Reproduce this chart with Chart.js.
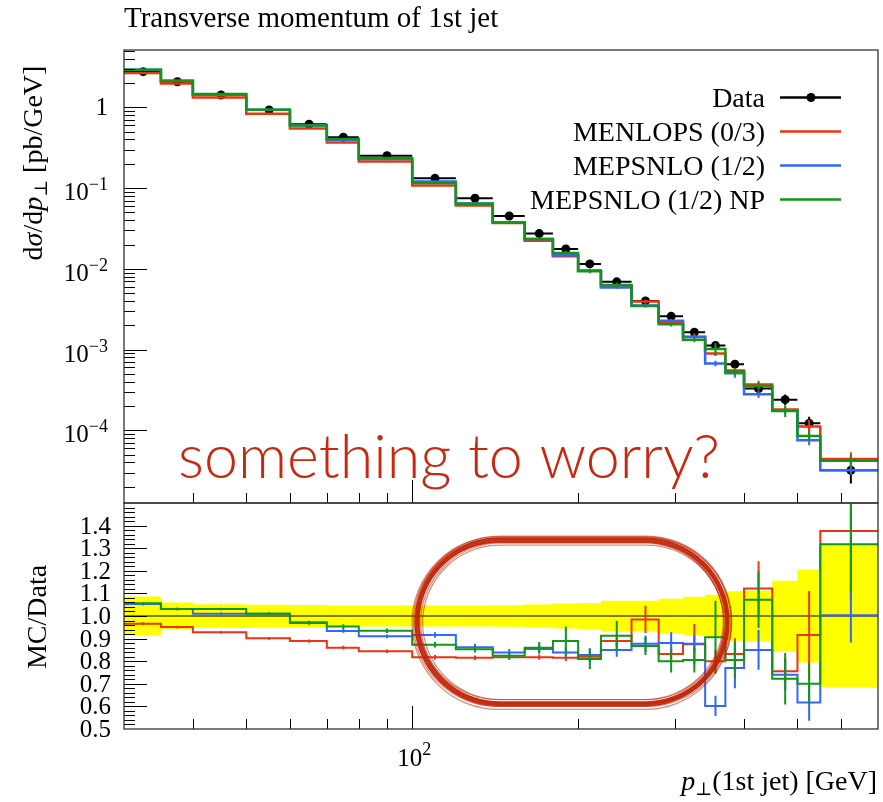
<!DOCTYPE html>
<html lang="en">
<head>
<meta charset="UTF-8">
<title>Transverse momentum of 1st jet</title>
<script src="https://cdn.jsdelivr.net/npm/chart.js@4.4.1/dist/chart.umd.min.js"></script>
<style>
  body { margin: 0; background: #fff; }
  .wrap { position: relative; width: 883px; height: 802px; }
  .wrap canvas { position: absolute; left: 0; top: 0; }
</style>
</head>
<body>
<div class="wrap">
  <canvas id="mainChart" width="883" height="802"></canvas>
  <canvas id="ratioChart" width="883" height="802"></canvas>
</div>
<script>
// jet pT binning [GeV]
const binEdges = [30, 35, 40, 50, 60, 70, 80, 100, 120, 140, 160, 180, 200, 220, 250, 280, 310, 340, 370, 400, 450, 500, 550, 700];

// measured dsigma/dpT [pb/GeV] and its relative uncertainty
const dataValues = [2.76, 2.07, 1.42, 0.926, 0.616, 0.425, 0.252, 0.132, 0.0748, 0.0451, 0.0273, 0.0176, 0.0115, 0.0069, 0.0040, 0.00258, 0.00164, 0.00112, 0.00066, 0.00033, 0.00024, 0.000122, 0.000032];
const dataRelErr = [0.086, 0.060, 0.052, 0.050, 0.049, 0.047, 0.046, 0.046, 0.046, 0.048, 0.051, 0.055, 0.057, 0.068, 0.068, 0.076, 0.085, 0.094, 0.110, 0.112, 0.156, 0.206, 0.315];

// MC / data ratios and their stat. errors
const ratioMenlops = [0.966, 0.951, 0.928, 0.901, 0.889, 0.860, 0.844, 0.817, 0.815, 0.817, 0.818, 0.815, 0.820, 0.889, 0.985, 0.832, 0.875, 0.800, 0.832, 1.122, 0.755, 0.916, 1.376];
const errMenlops = [0.006, 0.006, 0.006, 0.006, 0.007, 0.008, 0.008, 0.010, 0.010, 0.012, 0.012, 0.014, 0.016, 0.020, 0.060, 0.030, 0.090, 0.050, 0.070, 0.120, 0.060, 0.195, 0.300];
const ratioMepsnlo = [1.053, 1.031, 1.010, 1.010, 0.972, 0.934, 0.910, 0.916, 0.862, 0.839, 0.854, 0.838, 0.827, 0.850, 0.877, 0.880, 0.877, 0.602, 0.770, 0.850, 0.740, 0.617, 1.003];
const errMepsnlo = [0.006, 0.006, 0.006, 0.006, 0.007, 0.008, 0.008, 0.012, 0.015, 0.015, 0.020, 0.025, 0.030, 0.030, 0.037, 0.048, 0.040, 0.045, 0.090, 0.088, 0.070, 0.080, 0.120];
const ratioMepsnloNP = [1.056, 1.031, 1.031, 1.010, 0.969, 0.953, 0.935, 0.873, 0.853, 0.824, 0.860, 0.889, 0.810, 0.913, 0.867, 0.800, 0.805, 0.906, 0.805, 1.072, 0.722, 0.700, 1.317];
const errMepsnloNP = [0.006, 0.006, 0.006, 0.006, 0.008, 0.010, 0.010, 0.012, 0.015, 0.015, 0.025, 0.064, 0.045, 0.066, 0.040, 0.050, 0.055, 0.162, 0.080, 0.125, 0.114, 0.090, 0.210];

// axis labelling
const yDecadeTicks = [1, 1e-1, 1e-2, 1e-3, 1e-4];
const ratioTickLabels = [0.5, 0.6, 0.7, 0.8, 0.9, 1.0, 1.1, 1.2, 1.3, 1.4];
const xLabelTicks = [100];

const mcSeries = [
  { label: 'MENLOPS (0/3)', color: '#ee3311', ratio: ratioMenlops, err: errMenlops, layer: 3 },
  { label: 'MEPSNLO (1/2)', color: '#3366ff', ratio: ratioMepsnlo, err: errMepsnlo, layer: 2 },
  { label: 'MEPSNLO (1/2) NP', color: '#109618', ratio: ratioMepsnloNP, err: errMepsnloNP, layer: 1 }
];

// hand-drawn ring around the low-ratio region (data coordinates)
const ringBox = { xFrom: 102, xTo: 373, yFrom: 0.612, yTo: 1.336 };

const SERIF = '"Liberation Serif", "DejaVu Serif", serif';
const NOTE_RED = '#c8290e';

function binCentre(i) { return (binEdges[i] + binEdges[i + 1]) / 2; }

function stepPoints(values) {
  const pts = values.map((v, i) => ({ x: binEdges[i], y: v }));
  pts.push({ x: binEdges[binEdges.length - 1], y: values[values.length - 1] });
  return pts;
}

function hSegments(values) {
  const pts = [];
  values.forEach((v, i) => {
    pts.push({ x: binEdges[i], y: v }, { x: binEdges[i + 1], y: v }, { x: binEdges[i + 1], y: null });
  });
  return pts;
}

function vSegments(lo, hi) {
  const pts = [];
  lo.forEach((v, i) => {
    const c = binCentre(i);
    pts.push({ x: c, y: v }, { x: c, y: hi[i] }, { x: c, y: null });
  });
  return pts;
}

function lineSet(data, color, width, order, extra) {
  return Object.assign({
    data, borderColor: color, borderWidth: width, pointRadius: 0, pointHitRadius: 0,
    fill: false, tension: 0, order
  }, extra || {});
}

function tick(ctx, x0, y0, x1, y1) {
  ctx.beginPath();
  ctx.moveTo(x0, y0);
  ctx.lineTo(x1, y1);
  ctx.stroke();
}

// draw a run of text pieces [text, font, dy] starting/ending/centred at x
function drawRich(ctx, parts, x, y, align) {
  let total = 0;
  parts.forEach(p => { ctx.font = p[1]; total += ctx.measureText(p[0]).width; });
  let cx = align === 'right' ? x - total : align === 'center' ? x - total / 2 : x;
  ctx.textAlign = 'left';
  ctx.textBaseline = 'alphabetic';
  parts.forEach(p => {
    ctx.font = p[1];
    ctx.fillText(p[0], cx, y + (p[2] || 0));
    cx += ctx.measureText(p[0]).width;
  });
}

function drawXTicks(ctx, x, a) {
  ctx.strokeStyle = '#000';
  ctx.lineWidth = 1;
  for (let p = 1; p <= 2; p++) {
    for (let k = 1; k <= 9; k++) {
      const v = k * Math.pow(10, p);
      if (v <= x.min || v >= x.max) continue;
      const px = Math.round(x.getPixelForValue(v)) + 0.5;
      tick(ctx, px, a.bottom, px, a.bottom - (k === 1 ? 23 : 10));
    }
  }
}

function drawFrame(ctx, a) {
  ctx.strokeStyle = '#333';
  ctx.lineWidth = 1.3;
  ctx.strokeRect(a.left, a.top, a.right - a.left, a.bottom - a.top);
}

function stadiumPath(ctx, l, t, r, b) {
  const rad = (b - t) / 2;
  ctx.beginPath();
  ctx.moveTo(l + rad, t);
  ctx.lineTo(r - rad, t);
  ctx.arc(r - rad, t + rad, rad, -Math.PI / 2, Math.PI / 2);
  ctx.lineTo(l + rad, b);
  ctx.arc(l + rad, t + rad, rad, Math.PI / 2, Math.PI * 1.5);
  ctx.closePath();
}

const mainDecor = {
  id: 'mainDecor',
  afterDraw(chart) {
    const { ctx, chartArea: a, scales: { x, y } } = chart;
    ctx.save();

    // y ticks (log)
    ctx.strokeStyle = '#000';
    ctx.lineWidth = 1;
    for (let p = -5; p <= 0; p++) {
      for (let k = 1; k <= 9; k++) {
        const v = k * Math.pow(10, p);
        if (v <= y.min || v >= y.max) continue;
        const py = Math.round(y.getPixelForValue(v)) + 0.5;
        tick(ctx, a.left, py, a.left + (k === 1 ? 23 : 11), py);
      }
    }
    drawXTicks(ctx, x, a);
    drawFrame(ctx, a);

    // decade labels
    ctx.fillStyle = '#000';
    yDecadeTicks.forEach(v => {
      const py = y.getPixelForValue(v);
      const e = Math.round(Math.log10(v));
      if (e === 0) {
        drawRich(ctx, [['1', '25px ' + SERIF]], 108, py + 8, 'right');
      } else {
        drawRich(ctx, [['10', '25px ' + SERIF], ['\u2212' + (-e), '18px ' + SERIF, -10]], 108, py + 12, 'right');
      }
    });

    // y title
    ctx.save();
    ctx.translate(42, 163);
    ctx.rotate(-Math.PI / 2);
    drawRich(ctx, [
      ['d', '28px ' + SERIF], ['\u03c3', 'italic 28px ' + SERIF], ['/d', '28px ' + SERIF],
      ['p', 'italic 28px ' + SERIF], ['\u22a5', '18px ' + SERIF, 5], [' [pb/GeV]', '28px ' + SERIF]
    ], 0, 0, 'center');
    ctx.restore();

    // title
    drawRich(ctx, [['Transverse momentum of 1st jet', '29px ' + SERIF]], 124, 27, 'left');

    // legend
    const rows = [{ label: 'Data', color: '#000', marker: true }].concat(mcSeries);
    rows.forEach((r, i) => {
      const cy = 97.5 + i * 34;
      ctx.fillStyle = '#000';
      drawRich(ctx, [[r.label, '28px ' + SERIF]], 765, cy + 9, 'right');
      ctx.strokeStyle = r.color;
      ctx.lineWidth = 2.5;
      tick(ctx, 780, cy, 841, cy);
      if (r.marker) {
        ctx.fillStyle = '#000';
        ctx.beginPath();
        ctx.arc(811, cy, 4.5, 0, Math.PI * 2);
        ctx.fill();
      }
    });

    // annotation
    ctx.fillStyle = NOTE_RED;
    drawRich(ctx, [['something to worry?', '300 61px Lato, "Open Sans", sans-serif']], 178, 478, 'left');
    ctx.restore();
  }
};

const ratioDecor = {
  id: 'ratioDecor',
  afterDraw(chart) {
    const { ctx, chartArea: a, scales: { x, y } } = chart;
    ctx.save();

    // y ticks: major every 0.1, minor every 0.02
    ctx.strokeStyle = '#000';
    ctx.lineWidth = 1;
    for (let i = 26; i < 75; i++) {
      const v = i * 0.02;
      const py = Math.round(y.getPixelForValue(v)) + 0.5;
      tick(ctx, a.left, py, a.left + (i % 5 === 0 ? 23 : 11), py);
    }
    drawXTicks(ctx, x, a);
    drawFrame(ctx, a);

    ctx.fillStyle = '#000';
    ratioTickLabels.forEach(v => {
      drawRich(ctx, [[v.toFixed(1), '25px ' + SERIF]], 111, y.getPixelForValue(v) + 8, 'right');
    });

    xLabelTicks.forEach(v => {
      const e = Math.round(Math.log10(v));
      drawRich(ctx, [['10', '25px ' + SERIF], [String(e), '18px ' + SERIF, -11]], x.getPixelForValue(v) + 2, 766, 'center');
    });

    drawRich(ctx, [
      ['p', 'italic 28px ' + SERIF], ['\u22a5', '18px ' + SERIF, 5], ['(1st jet) [GeV]', '28px ' + SERIF]
    ], 877, 790, 'right');

    ctx.save();
    ctx.translate(46, 617);
    ctx.rotate(-Math.PI / 2);
    drawRich(ctx, [['MC/Data', '28px ' + SERIF]], 0, 0, 'center');
    ctx.restore();

    // scribbled ring: a solid core plus loose, slightly shifted passes
    const l = x.getPixelForValue(ringBox.xFrom), r = x.getPixelForValue(ringBox.xTo);
    const t = y.getPixelForValue(ringBox.yTo), b = y.getPixelForValue(ringBox.yFrom);
    ctx.lineJoin = 'round';
    ctx.strokeStyle = 'rgba(192, 36, 8, 0.92)';
    ctx.lineWidth = 5;
    stadiumPath(ctx, l, t, r, b);
    ctx.stroke();
    const passes = [[-4.5, 1.2, 0.5], [-3.2, -0.8, -1], [-2, 1.8, 0.8], [2.2, -1.5, 0.4], [3.4, 1, -0.6], [4.6, -0.4, 1.1], [1, 2.5, -1.4], [-1, -2.2, 1.5]];
    ctx.strokeStyle = 'rgba(192, 36, 8, 0.55)';
    ctx.lineWidth = 1.2;
    passes.forEach(([d, sx, sy]) => {
      stadiumPath(ctx, l - d + sx, t - d + sy, r + d + sx, b + d + sy);
      ctx.stroke();
    });
    ctx.restore();
  }
};

function baseOptions(pad, yScale) {
  return {
    responsive: false,
    animation: false,
    events: [],
    layout: { padding: pad },
    plugins: { legend: { display: false }, tooltip: { enabled: false } },
    scales: {
      x: { type: 'logarithmic', min: 30, max: 700, display: false },
      y: Object.assign({ display: false }, yScale)
    }
  };
}

// upper panel: absolute cross sections
const mainSets = [
  lineSet(hSegments(dataValues), '#000', 2, 6),
  lineSet(vSegments(dataValues.map((v, i) => v * (1 - dataRelErr[i])), dataValues.map((v, i) => v * (1 + dataRelErr[i]))), '#000', 2, 6),
  lineSet(dataValues.map((v, i) => ({ x: binCentre(i), y: v })), '#000', 0, 5,
    { showLine: false, pointRadius: 4.5, pointBackgroundColor: '#000', pointBorderWidth: 0 })
];
mcSeries.forEach(s => {
  const abs = s.ratio.map((r, i) => r * dataValues[i]);
  mainSets.push(lineSet(stepPoints(abs), s.color, 2.5, s.layer, { stepped: 'before' }));
  mainSets.push(lineSet(vSegments(abs.map((v, i) => v - s.err[i] * dataValues[i]), abs.map((v, i) => v + s.err[i] * dataValues[i])), s.color, 2, s.layer));
});

new Chart(document.getElementById('mainChart'), {
  type: 'line',
  data: { datasets: mainSets },
  options: baseOptions({ left: 124, top: 50, right: 5, bottom: 299 }, { type: 'logarithmic', min: 1.26e-5, max: 5.12 }),
  plugins: [mainDecor]
});

// lower panel: MC / data
const ratioSets = [
  lineSet(stepPoints(dataRelErr.map(e => 1 + e)), 'rgba(0,0,0,0)', 0, 10,
    { stepped: 'before', fill: '+1', backgroundColor: '#ffff00' }),
  lineSet(stepPoints(dataRelErr.map(e => 1 - e)), 'rgba(0,0,0,0)', 0, 10, { stepped: 'before' }),
  lineSet([{ x: binEdges[0], y: 1 }, { x: binEdges[binEdges.length - 1], y: 1 }], '#000', 1, 9)
];
mcSeries.forEach(s => {
  ratioSets.push(lineSet(stepPoints(s.ratio), s.color, 2, s.layer, { stepped: 'before' }));
  ratioSets.push(lineSet(vSegments(s.ratio.map((r, i) => r - s.err[i]), s.ratio.map((r, i) => r + s.err[i])), s.color, 2, s.layer));
});

new Chart(document.getElementById('ratioChart'), {
  type: 'line',
  data: { datasets: ratioSets },
  options: baseOptions({ left: 124, top: 503, right: 5, bottom: 73 }, { type: 'linear', min: 0.5, max: 1.5 }),
  plugins: [ratioDecor]
});
</script>
</body>
</html>
